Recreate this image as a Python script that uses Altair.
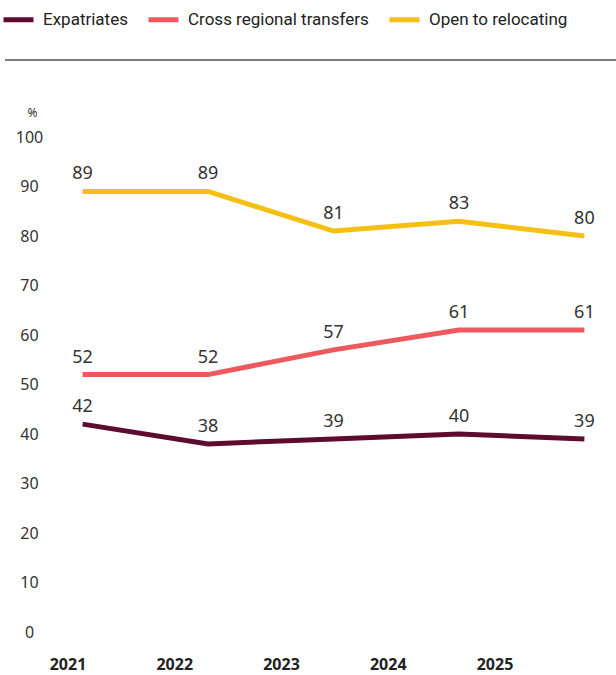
import altair as alt
import pandas as pd

years = ["2021", "2022", "2023", "2024", "2025"]
expatriates = [42, 38, 39, 40, 39]
cross_regional = [52, 52, 57, 61, 61]
open_relocating = [89, 89, 81, 83, 80]
series = ["Expatriates", "Cross regional transfers", "Open to relocating"]
colors = ["#5e0b30", "#ee595d", "#f6c012"]
y_ticks = [0, 10, 20, 30, 40, 50, 60, 70, 80, 90, 100]

rows = []
for name, vals in zip(series, [expatriates, cross_regional, open_relocating]):
    for yr, v in zip(years, vals):
        rows.append({"Year": yr, "Series": name, "Value": v})
df = pd.DataFrame(rows)
year_df = pd.DataFrame({"Year": years})

W, H = 557, 495
FONT = "Noto Sans"

xs = alt.X("Year:O", scale=alt.Scale(type="point", padding=0.22), axis=None)
ys = alt.Y(
    "Value:Q",
    scale=alt.Scale(domain=[0, 100]),
    axis=alt.Axis(
        values=y_ticks, grid=False, domain=False, ticks=False, tickSize=0,
        labelAlign="center", labelPadding=26, labelFontSize=16,
        labelColor="#333333", labelFont=FONT,
        title="%", titleAngle=0, titleX=-23, titleY=-25, titleAlign="center",
        titleBaseline="middle", titleFontSize=12, titleFontWeight="normal",
        titleFont=FONT, titleColor="#333333",
    ),
)
color = alt.Color(
    "Series:N",
    scale=alt.Scale(domain=series, range=colors),
    legend=alt.Legend(
        title=None, orient="none", legendX=-54, legendY=-135,
        direction="horizontal", symbolType="stroke", symbolSize=900,
        symbolStrokeWidth=5, labelFontSize=17, labelFont="Roboto",
        labelColor="#222222", labelOffset=7, columnPadding=10,
        labelBaseline="middle", labelLimit=400,
    ),
)

lines = alt.Chart(df).mark_line(strokeWidth=5, strokeCap="butt").encode(
    x=xs, y=ys, color=color
)
labels = alt.Chart(df).mark_text(
    dy=-17, fontSize=18, color="#333333", font=FONT, baseline="middle"
).encode(x=xs, y=alt.Y("Value:Q"), text="Value:Q")

year_text = alt.Chart(year_df).mark_text(
    fontSize=16, fontWeight="bold", color="#222222", font=FONT, baseline="middle"
).encode(
    x=alt.X("Year:O", scale=alt.Scale(type="point", padding=0.609, align=0.1), axis=None),
    y=alt.value(H + 33),
    text="Year:N",
)

rule = alt.Chart(pd.DataFrame({"a": [0]})).mark_rule(
    color="#7a7a7a", strokeWidth=2
).encode(x=alt.value(-50), x2=alt.value(561), y=alt.value(-77))

main = alt.layer(lines, labels)
chart = alt.layer(main, year_text, rule).resolve_scale(x="independent").properties(
    width=W, height=H,
    autosize=alt.AutoSizeParams(type="none"),
    padding={"left": 55, "top": 137, "right": 4, "bottom": 43},
).configure_view(stroke=None)

chart.save("out.html", embed_options={"renderer": "svg", "actions": False})
